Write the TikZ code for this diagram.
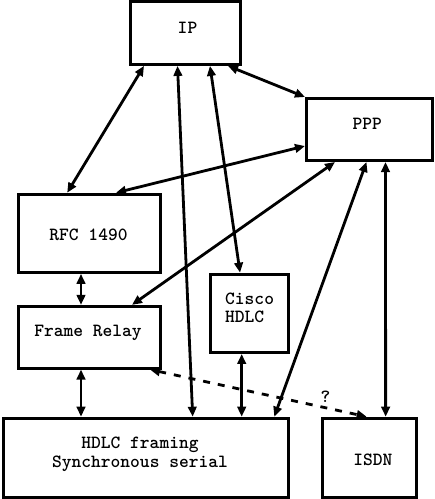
\documentclass[tikz,border=0pt]{standalone}
\usepackage{fontspec}
\usetikzlibrary{arrows.meta}
\begin{document}
\begin{tikzpicture}[x=1pt,y=-1pt,
  box/.style={draw, line width=3pt, inner sep=0pt},
  lbl/.style={font=\ttfamily\bfseries\fontsize{18.6pt}{18.5pt}\selectfont, inner sep=0pt, anchor=base},
  link/.style={line width=2.8pt, {Triangle[length=10pt,width=8.5pt]}-{Triangle[length=10pt,width=8.5pt]}},
  dashlink/.style={link, dash pattern=on 7pt off 8pt}]
\useasboundingbox (0,0) rectangle (435,499);
% boxes
\node[box, minimum width=110pt, minimum height=62.8pt] (ip) at (185.5,33) {};
\node[box, minimum width=126pt, minimum height=62pt] (ppp) at (369.5,129.5) {};
\node[box, minimum width=141.8pt, minimum height=78.1pt] (rfc) at (89.6,233.3) {};
\node[box, minimum width=141.8pt, minimum height=61.7pt] (fr) at (89.6,337.2) {};
\node[box, minimum width=78.3pt, minimum height=78.3pt] (cisco) at (249.7,313.3) {};
\node[box, minimum width=285.6pt, minimum height=79pt] (hdlc) at (146,457.7) {};
\node[box, minimum width=94.3pt, minimum height=79pt] (isdn) at (369.3,457.7) {};
% texts
\node[lbl] (ipt) at (187.5,33.3) {IP};
\node[lbl] (pppt) at (367.2,129.3) {PPP};
\node[lbl] (rfct) at (88.5,240.7) {RFC 1490};
\node[lbl] (frt) at (88,336) {Frame Relay};
\node[lbl, anchor=base west, align=left] (ciscot) at (225,322.7) {Cisco\\HDLC};
\node[lbl, align=center] (hdlct) at (140,467) {HDLC framing\\Synchronous serial};
\node[lbl] (isdnt) at (372.8,465) {ISDN};
% connectors
\draw[link] ([xshift=15pt]ip.south west) -- ([xshift=50pt]rfc.north west);
\draw[link] ([xshift=-14pt]ip.south east) -- (ppp.north west);
\draw[link] ([yshift=16pt]ppp.south west) -- ([xshift=-46pt]rfc.north east);
\draw[link] ([xshift=30pt]ppp.south west) -- ([xshift=-30pt]fr.north east);
\draw[link] ([xshift=48.5pt]ip.south west) -- ([xshift=191pt]hdlc.north west);
\draw[link] ([xshift=81pt]ip.south west) -- ([xshift=31pt]cisco.north west);
\draw[link] ([xshift=61.5pt]ppp.south west) -- ([xshift=-16pt]hdlc.north east);
\draw[link] ([xshift=80.5pt]ppp.south west) -- ([xshift=65pt]isdn.north west);
\draw[link] ([xshift=-8.6pt]rfc.south) -- ([xshift=-8.6pt]fr.north);
\draw[link] ([xshift=-8.6pt]fr.south) -- ([xshift=79.3pt]hdlc.north west);
\draw[link] ([xshift=-8pt]cisco.south) -- ([xshift=240pt]hdlc.north west);
\draw[dashlink] ([xshift=-12pt]fr.south east) -- ([xshift=46pt]isdn.north west)
  node[lbl, anchor=center, pos=0.81, yshift=11pt] (q) {?};
\end{tikzpicture}
\end{document}
